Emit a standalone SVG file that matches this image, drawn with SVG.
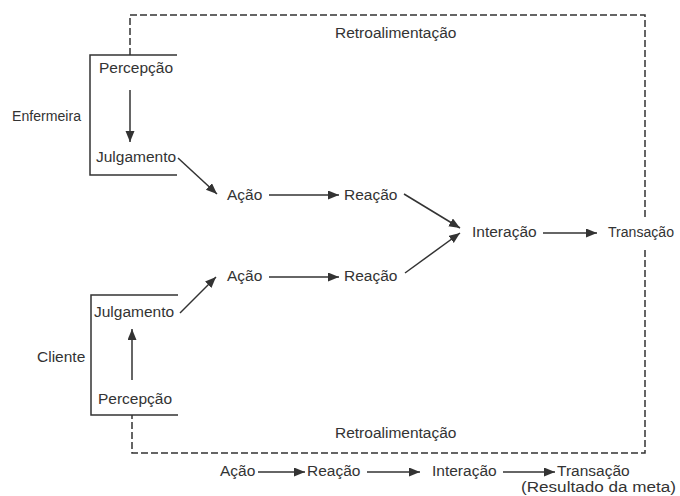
<svg xmlns="http://www.w3.org/2000/svg" width="680" height="496" viewBox="0 0 680 496">
  <style>
    text { font-family: "Liberation Sans", Arial, sans-serif; font-size: 15.5px; fill: #333; }
    .ln { stroke: #333; stroke-width: 1.5; fill: none; }
    .arr { stroke: #333; stroke-width: 1.5; fill: none; marker-end: url(#ah); }
    .dash { stroke: #333; stroke-width: 1.5; fill: none; stroke-dasharray: 7 3; }
  </style>
  <defs>
    <marker id="ah" markerUnits="userSpaceOnUse" markerWidth="12" markerHeight="10" refX="11" refY="4.5" orient="auto">
      <path d="M0,0 L11,4.5 L0,9 z" fill="#333"/>
    </marker>
  </defs>
  <rect width="680" height="496" fill="#fff"/>

  <g id="connectors">
    <line class="arr" x1="130" y1="90" x2="130" y2="142"/>
    <line class="arr" x1="178" y1="158" x2="217" y2="194"/>
    <line class="arr" x1="269" y1="195" x2="339" y2="195"/>
    <line class="arr" x1="404" y1="194" x2="460" y2="228"/>
    <line class="arr" x1="132" y1="380" x2="132" y2="329"/>
    <line class="arr" x1="180" y1="313" x2="216" y2="277"/>
    <line class="arr" x1="269" y1="277" x2="339" y2="277"/>
    <line class="arr" x1="405" y1="273" x2="460" y2="233"/>
    <line class="arr" x1="543" y1="233" x2="597" y2="233"/>
    <polyline class="dash" points="130,55 130,15 645,15 645,219"/>
    <polyline class="dash" points="645,250 645,453 132,453 132,415"/>
    <line class="arr" x1="258" y1="472" x2="305" y2="472"/>
    <line class="arr" x1="367" y1="472" x2="420" y2="472"/>
    <line class="arr" x1="503" y1="472" x2="555" y2="472"/>
  </g>

  <g id="enfermeira">
    <path class="ln" d="M177,55 H90 V175 H177"/>
    <text x="12" y="121" textLength="69" lengthAdjust="spacingAndGlyphs">Enfermeira</text>
  </g>
  <g id="percepcao-enf"><text x="99" y="73">Percepção</text></g>
  <g id="julgamento-enf"><text x="96" y="162">Julgamento</text></g>
  <g id="acao-enf"><text x="227" y="200">Ação</text></g>
  <g id="reacao-enf"><text x="344" y="200">Reação</text></g>
  <g id="interacao"><text x="472" y="237">Interação</text></g>
  <g id="transacao"><text x="608" y="237" textLength="66" lengthAdjust="spacingAndGlyphs">Transação</text></g>

  <g id="cliente">
    <path class="ln" d="M178,295 H91 V415 H178"/>
    <text x="37" y="362">Cliente</text>
  </g>
  <g id="julgamento-cli"><text x="94" y="317">Julgamento</text></g>
  <g id="percepcao-cli"><text x="98" y="404">Percepção</text></g>
  <g id="acao-cli"><text x="227" y="281">Ação</text></g>
  <g id="reacao-cli"><text x="344" y="281">Reação</text></g>

  <g id="retro-top"><text x="335" y="38">Retroalimentação</text></g>
  <g id="retro-bottom"><text x="335" y="438">Retroalimentação</text></g>

  <g id="legend">
    <text x="220" y="476">Ação</text>
    <text x="307" y="476">Reação</text>
    <text x="432" y="476">Interação</text>
    <text x="557" y="476">Transação</text>
    <text x="521" y="492" textLength="155" lengthAdjust="spacingAndGlyphs">(Resultado da meta)</text>
  </g>
</svg>
